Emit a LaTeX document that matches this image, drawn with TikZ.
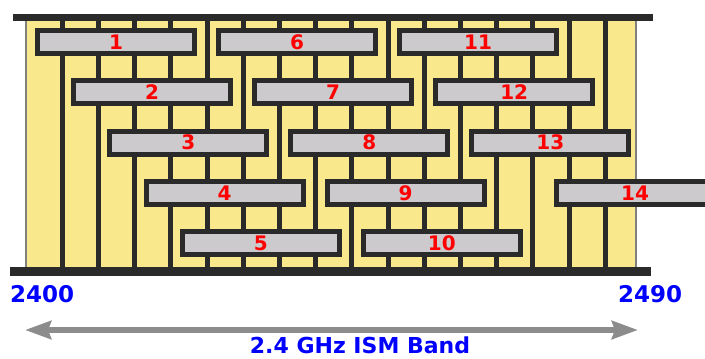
\documentclass[tikz,border=0pt]{standalone}
\usepackage{fontspec}
\setmainfont{DejaVu Sans}
\usetikzlibrary{arrows.meta}
\definecolor{bandyellow}{RGB}{250,232,140}
\definecolor{chgray}{RGB}{204,202,204}
\definecolor{linedark}{RGB}{42,42,42}
\definecolor{arrowgray}{RGB}{140,140,140}
\tikzset{
  chanbox/.style={draw=linedark,fill=chgray,line width=5pt,minimum width=157pt,minimum height=23pt,inner sep=0pt,font=\bfseries\fontsize{20}{20}\selectfont,text=red},
  gridline/.style={draw=linedark,line width=5pt},
  bandbar/.style={draw=linedark},
  freqlabel/.style={font=\bfseries\fontsize{23}{23}\selectfont,text=blue,inner sep=0pt},
  bandarrow/.style={{Stealth[length=26pt,width=18pt,inset=3pt]}-{Stealth[length=26pt,width=18pt,inset=3pt]},draw=arrowgray,line width=6pt}
}

\begin{document}
\begin{tikzpicture}[x=1pt,y=-1pt]
\useasboundingbox (0,0) rectangle (705,359);
% band background and 5 MHz grid
\fill[bandyellow] (26,21) rectangle (636,267);
\draw[gray,line width=1.5pt] (26,21) -- (26,267) (636,21) -- (636,267);
\foreach \k in {1,...,16}
  \draw[gridline] ({26+36.2*\k},18) -- ({26+36.2*\k},270);
\draw[bandbar,line width=7pt] (13,17.5) -- (653,17.5);
\draw[bandbar,line width=9pt] (10,271.5) -- (651,271.5);

% channels
\foreach \n in {1,...,13}{
  \pgfmathsetmacro{\cx}{116+36.2*(\n-1)}
  \pgfmathsetmacro{\cy}{42+50.3*mod(\n-1,5)}
  \node[chanbox] (ch\n) at (\cx,\cy) {\n};
}
\node[chanbox] (ch14) at (635,193) {14};

% frequency labels
\node[freqlabel,anchor=base west] (flo) at (10,302) {2400};
\node[freqlabel,anchor=base west] (fhi) at (618,302) {2490};
\coordinate (alo) at (25,330);
\coordinate (ahi) at (638,330);
\draw[bandarrow] (alo) -- (ahi);
\node[freqlabel,font=\bfseries\fontsize{22}{22}\selectfont,anchor=base] (band) at (360,353.5) {2.4 GHz ISM Band};
\end{tikzpicture}
\end{document}
